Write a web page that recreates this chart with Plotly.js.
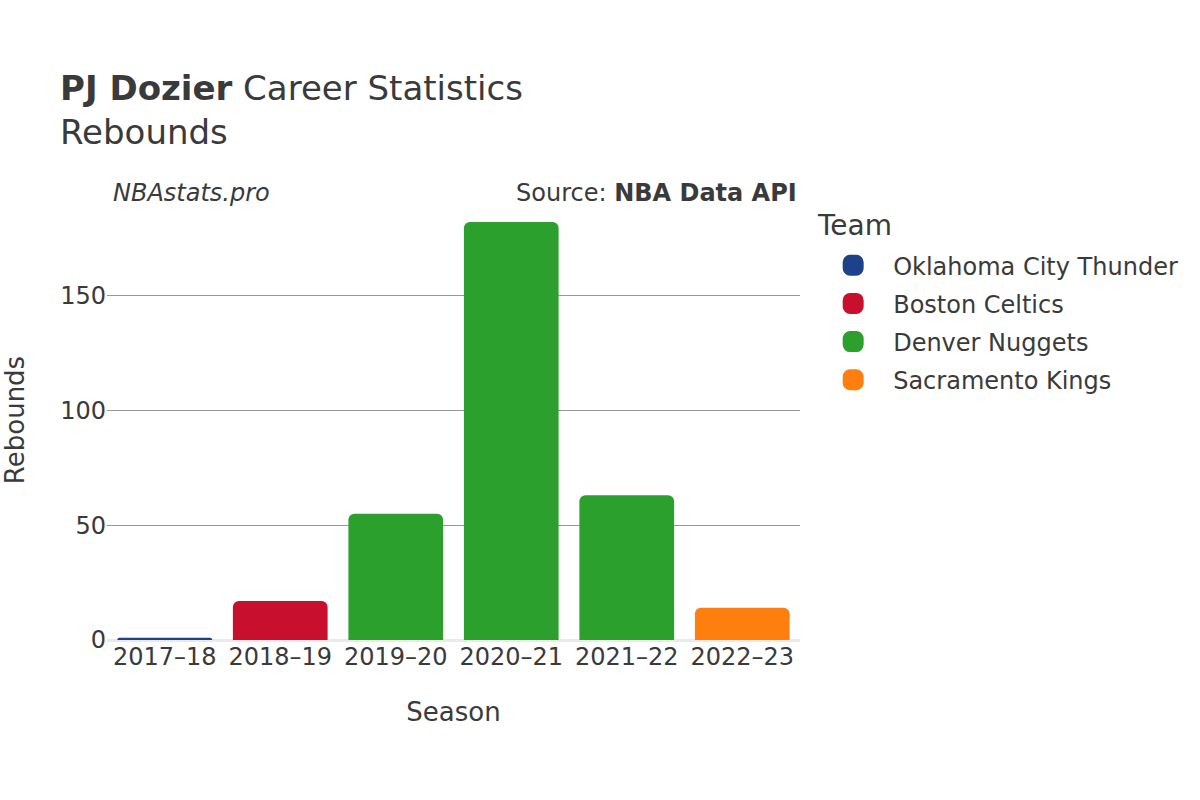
<!DOCTYPE html>
<html>
<head>
<meta charset="utf-8">
<script src="https://cdn.plot.ly/plotly-3.0.1.min.js"></script>
<style>
  body { margin: 0; }
  #chart { width: 1200px; height: 800px; }
</style>
</head>
<body>
<div id="chart"></div>
<script>
var seasons = ['2017–18', '2018–19', '2019–20', '2020–21', '2021–22', '2022–23'];

var teams = ['Oklahoma City Thunder', 'Boston Celtics', 'Denver Nuggets', 'Sacramento Kings'];
var teamColors = ['#1d428a', '#c8102e', '#2ca02c', '#ff7f0e'];

// season played for each team, and rebounds in it
var teamSeasons = [
    ['2017–18'],
    ['2018–19'],
    ['2019–20', '2020–21', '2021–22'],
    ['2022–23']
];
var teamRebounds = [
    [1],
    [17],
    [55, 182, 63],
    [14]
];

var font = 'DejaVu Sans, sans-serif';
var textColor = '#3a3a3a';

var data = [];
for (var i = 0; i < teams.length; i++) {
    data.push({
        x: teamSeasons[i],
        y: teamRebounds[i],
        name: teams[i],
        legendgroup: teams[i],
        type: 'bar',
        marker: { color: teamColors[i], cornerradius: 6 }
    });
}

var layout = {
    width: 1200,
    height: 800,
    margin: { l: 107, r: 400, t: 200, b: 160 },
    paper_bgcolor: 'white',
    plot_bgcolor: 'white',
    font: { family: font, color: textColor, size: 24 },
    barmode: 'overlay',
    bargap: 0.18,
    title: {
        text: '<b>PJ Dozier</b> Career Statistics<br>Rebounds',
        font: { family: font, size: 34, color: textColor },
        x: 0.05,
        xanchor: 'left',
        xref: 'container',
        y: 0.875,
        yanchor: 'top',
        yref: 'container'
    },
    xaxis: {
        type: 'category',
        categoryorder: 'array',
        categoryarray: seasons,
        title: { text: 'Season', font: { size: 26 }, standoff: 32 },
        tickfont: { size: 24 },
        showgrid: false
    },
    yaxis: {
        title: { text: 'Rebounds', font: { size: 26 }, standoff: 38 },
        tickfont: { size: 24 },
        tickvals: [0, 50, 100, 150],
        gridcolor: '#999',
        gridwidth: 1,
        zeroline: true,
        zerolinecolor: '#eaeaea',
        zerolinewidth: 3
    },
    legend: {
        font: { size: 24 },
        x: 1.019,
        xanchor: 'left',
        y: 0.902,
        yanchor: 'top',
        itemwidth: 70,
        tracegroupgap: 4
    },
    annotations: [
        {
            text: 'Team',
            xref: 'paper', yref: 'paper',
            x: 1.022, y: 0.941,
            xanchor: 'left', yanchor: 'middle',
            showarrow: false,
            font: { size: 28, color: textColor }
        },
        {
            text: '<i>NBAstats.pro</i>',
            xref: 'paper', yref: 'paper',
            x: 0.006, y: 1.0,
            xanchor: 'left', yanchor: 'bottom',
            yshift: -9,
            showarrow: false,
            font: { size: 24, color: textColor }
        },
        {
            text: 'Source: <b>NBA Data API</b>',
            xref: 'paper', yref: 'paper',
            x: 0.998, y: 1.0,
            xanchor: 'right', yanchor: 'bottom',
            yshift: -9,
            showarrow: false,
            font: { size: 24, color: textColor }
        }
    ]
};

Plotly.newPlot('chart', data, layout, { displayModeBar: false }).then(function (gd) {
    // bigger, rounded legend swatches
    gd.querySelectorAll('.legend .legendpoints path').forEach(function (p) {
        p.style.stroke = p.style.fill;
        p.style.strokeWidth = '9px';
        p.style.strokeLinejoin = 'round';
    });
});
</script>
</body>
</html>
